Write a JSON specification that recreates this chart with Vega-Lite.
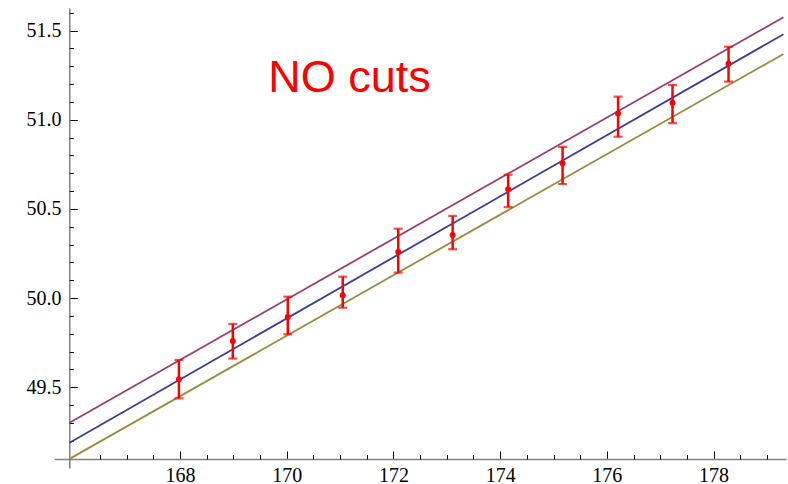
{
  "$schema": "https://vega.github.io/schema/vega-lite/v6.json",
  "autosize": "none",
  "width": 732,
  "height": 460,
  "padding": {"left": 54, "top": 8, "right": 2, "bottom": 16},
  "background": "white",
  "config": {
    "view": {"stroke": null},
    "axis": {
      "grid": false,
      "labelFont": "Liberation Serif",
      "labelFontSize": 20,
      "labelColor": "#000000",
      "tickColor": "#000000",
      "tickWidth": 1,
      "domainColor": "#808080",
      "domainWidth": 1.5,
      "title": null
    }
  },
  "datasets": {
    "fits": [
      {"series": "upper", "x": 165.93, "y": 49.301},
      {"series": "upper", "x": 179.31, "y": 51.575},
      {"series": "central", "x": 165.93, "y": 49.189},
      {"series": "central", "x": 179.31, "y": 51.480},
      {"series": "lower", "x": 165.93, "y": 49.098},
      {"series": "lower", "x": 179.31, "y": 51.369}
    ],
    "measurements": [
      {"x": 167.98, "y": 49.545, "lo": 49.438, "hi": 49.653},
      {"x": 168.99, "y": 49.759, "lo": 49.661, "hi": 49.855},
      {"x": 170.02, "y": 49.894, "lo": 49.797, "hi": 50.008},
      {"x": 171.05, "y": 50.016, "lo": 49.946, "hi": 50.120},
      {"x": 172.09, "y": 50.259, "lo": 50.143, "hi": 50.389},
      {"x": 173.11, "y": 50.354, "lo": 50.274, "hi": 50.461},
      {"x": 174.15, "y": 50.610, "lo": 50.510, "hi": 50.692},
      {"x": 175.17, "y": 50.756, "lo": 50.640, "hi": 50.848},
      {"x": 176.21, "y": 51.035, "lo": 50.905, "hi": 51.130},
      {"x": 177.23, "y": 51.096, "lo": 50.981, "hi": 51.195},
      {"x": 178.28, "y": 51.315, "lo": 51.214, "hi": 51.410}
    ],
    "caption": [{"label": "NO cuts"}]
  },
  "resolve": {"axis": {"x": "independent", "y": "independent"}},
  "layer": [
    {
      "data": {"name": "fits"},
      "mark": {"type": "line", "strokeWidth": 1.8},
      "encoding": {
        "x": {
          "field": "x", "type": "quantitative",
          "scale": {"domain": [165.639, 179.357], "nice": false, "zero": false},
          "axis": {
            "orient": "bottom", "offset": -9,
            "values": [168, 170, 172, 174, 176, 178], "format": "d",
            "labelFont": "Liberation Serif", "labelFontSize": 20,
            "tickSize": -8, "labelPadding": 14
          }
        },
        "y": {
          "field": "y", "type": "quantitative",
          "scale": {"domain": [49.047, 51.627], "nice": false, "zero": false},
          "axis": {
            "orient": "left", "offset": -15.3,
            "values": [49.5, 50, 50.5, 51, 51.5], "format": ".1f",
            "labelFont": "Liberation Serif", "labelFontSize": 20,
            "tickSize": -8, "labelPadding": 16.3
          }
        },
        "detail": {"field": "series"},
        "color": {
          "field": "series", "type": "nominal",
          "scale": {"domain": ["upper", "central", "lower"], "range": ["#993D71", "#3D3D99", "#998B3D"]},
          "legend": null
        }
      }
    },
    {
      "data": {"name": "fits"},
      "mark": {"type": "line", "opacity": 0},
      "encoding": {
        "x": {
          "field": "x", "type": "quantitative",
          "axis": {
            "orient": "bottom", "offset": -9, "domain": false, "labels": false,
            "values": [166.5, 167, 167.5, 168.5, 169, 169.5, 170.5, 171, 171.5, 172.5, 173, 173.5, 174.5, 175, 175.5, 176.5, 177, 177.5, 178.5, 179],
            "tickSize": -4.5
          }
        },
        "y": {
          "field": "y", "type": "quantitative",
          "axis": {
            "orient": "left", "offset": -15.3, "domain": false, "labels": false,
            "values": [49.2, 49.3, 49.4, 49.6, 49.7, 49.8, 49.9, 50.1, 50.2, 50.3, 50.4, 50.6, 50.7, 50.8, 50.9, 51.1, 51.2, 51.3, 51.4, 51.6],
            "tickSize": -4
          }
        },
        "detail": {"field": "series"}
      }
    },
    {
      "data": {"name": "measurements"},
      "mark": {"type": "rule", "color": "#FF0000", "strokeWidth": 2.5},
      "encoding": {
        "x": {"field": "x", "type": "quantitative", "axis": null},
        "y": {"field": "lo", "type": "quantitative", "axis": null},
        "y2": {"field": "hi"}
      }
    },
    {
      "data": {"name": "measurements"},
      "mark": {"type": "tick", "color": "#FF0000", "orient": "horizontal", "size": 9, "thickness": 2.2},
      "encoding": {
        "x": {"field": "x", "type": "quantitative", "axis": null},
        "y": {"field": "lo", "type": "quantitative", "axis": null}
      }
    },
    {
      "data": {"name": "measurements"},
      "mark": {"type": "tick", "color": "#FF0000", "orient": "horizontal", "size": 9, "thickness": 2.2},
      "encoding": {
        "x": {"field": "x", "type": "quantitative", "axis": null},
        "y": {"field": "hi", "type": "quantitative", "axis": null}
      }
    },
    {
      "data": {"name": "measurements"},
      "mark": {"type": "circle", "color": "#FF0000", "opacity": 1, "size": 36},
      "encoding": {
        "x": {"field": "x", "type": "quantitative", "axis": null},
        "y": {"field": "y", "type": "quantitative", "axis": null}
      }
    },
    {
      "data": {"name": "caption"},
      "mark": {"type": "text", "align": "left", "baseline": "alphabetic", "font": "Liberation Sans", "fontSize": 45, "color": "#FF0000"},
      "encoding": {
        "x": {"datum": 169.655, "type": "quantitative", "axis": null},
        "y": {"datum": 51.158, "type": "quantitative", "axis": null},
        "text": {"field": "label"}
      }
    }
  ]
}
